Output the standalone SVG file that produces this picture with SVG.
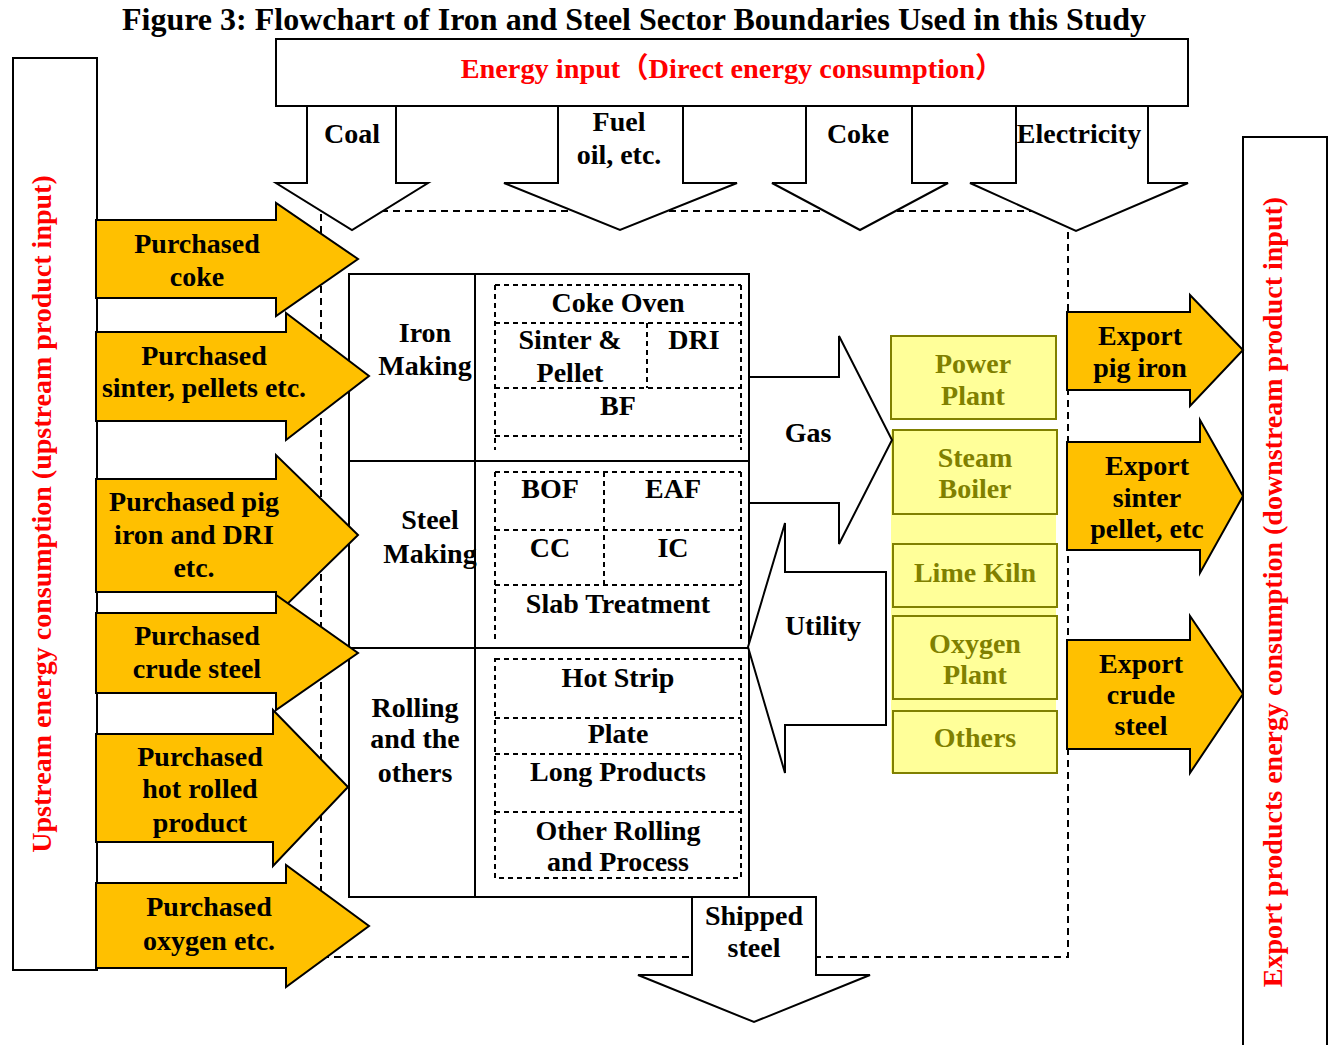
<svg xmlns="http://www.w3.org/2000/svg" width="1329" height="1045" viewBox="0 0 1329 1045">
<style>
.t{font-family:"Liberation Serif","Times New Roman",serif;font-weight:bold;font-size:28px;text-anchor:middle;fill:#000}
.red{fill:#FF0000}
.ol{fill:#808000}
.ln{fill:#fff;stroke:#000;stroke-width:2}
.ya{fill:#FFC000;stroke:#000;stroke-width:2}
.dash{fill:none;stroke:#000;stroke-width:2;stroke-dasharray:7 5}
.dot{fill:none;stroke:#000;stroke-width:2;stroke-dasharray:5 4}
.yb{fill:#FFFF99;stroke:#808000;stroke-width:2}
</style>
<rect width="1329" height="1045" fill="#fff"/>
<text class="t" x="634" y="30" style="font-size:32px">Figure 3: Flowchart of Iron and Steel Sector Boundaries Used in this Study</text>

<g id="boundary">
<rect class="dash" x="321" y="211" width="747" height="746"/>
</g>

<g id="upstream">
<rect class="ln" x="13" y="58" width="84" height="912"/>
<text class="t red" transform="translate(51,514) rotate(-90)">Upstream energy consumption (upstream product input)</text>
</g>
<g id="downstream">
<rect class="ln" x="1243" y="137" width="84" height="930"/>
<text class="t red" transform="translate(1282,592) rotate(-90)">Export products energy consumption (downstream product input)</text>
</g>

<g id="energy-input">
<rect class="ln" x="276" y="39" width="912" height="67"/>
<text class="t red" x="732" y="78" style="font-family:'Liberation Serif','Noto Sans CJK SC',serif;font-size:28.3px">Energy input（Direct energy consumption）</text>
</g>

<g id="table">
<rect class="ln" x="349" y="274" width="400" height="623"/>
<line x1="475" y1="274" x2="475" y2="897" stroke="#000" stroke-width="2"/>
<line x1="349" y1="461" x2="749" y2="461" stroke="#000" stroke-width="2"/>
<line x1="349" y1="648" x2="749" y2="648" stroke="#000" stroke-width="2"/>
</g>

<g id="iron-making">
<text class="t" x="425" y="342">Iron</text>
<text class="t" x="425" y="375">Making</text>
<path class="dot" d="M495,285 H741 M495,285 V450 M741,285 V450 M495,323 H741 M647,323 V388 M495,388 H741 M495,436 H741"/>
<text class="t" x="618" y="312">Coke Oven</text>
<text class="t" x="570" y="349">Sinter &amp;</text>
<text class="t" x="570" y="382">Pellet</text>
<text class="t" x="694" y="349">DRI</text>
<text class="t" x="618" y="415">BF</text>
</g>

<g id="steel-making">
<text class="t" x="430" y="529">Steel</text>
<text class="t" x="430" y="563">Making</text>
<path class="dot" d="M495,472 H741 M495,472 V640 M741,472 V640 M495,530 H741 M604,472 V585 M495,585 H741"/>
<text class="t" x="550" y="498">BOF</text>
<text class="t" x="673" y="498">EAF</text>
<text class="t" x="550" y="557">CC</text>
<text class="t" x="673" y="557">IC</text>
<text class="t" x="618" y="613">Slab Treatment</text>
</g>

<g id="rolling">
<text class="t" x="415" y="717">Rolling</text>
<text class="t" x="415" y="748">and the</text>
<text class="t" x="415" y="782">others</text>
<path class="dot" d="M495,659 H741 V878 H495 Z M495,718 H741 M495,754 H741 M495,812 H741"/>
<text class="t" x="618" y="687">Hot Strip</text>
<text class="t" x="618" y="743">Plate</text>
<text class="t" x="618" y="781">Long Products</text>
<text class="t" x="618" y="840">Other Rolling</text>
<text class="t" x="618" y="871">and Process</text>
</g>

<g id="utilities">
<rect x="891" y="430" width="165" height="343" fill="#FFFF99"/>
<g id="power-plant"><rect class="yb" x="891" y="336" width="165" height="83"/><text class="t ol" x="973" y="373">Power</text><text class="t ol" x="973" y="405">Plant</text></g>
<g id="steam-boiler"><rect class="yb" x="893" y="430" width="164" height="84"/><text class="t ol" x="975" y="467">Steam</text><text class="t ol" x="975" y="498">Boiler</text></g>
<g id="lime-kiln"><rect class="yb" x="893" y="544" width="164" height="63"/><text class="t ol" x="975" y="582">Lime Kiln</text></g>
<g id="oxygen-plant"><rect class="yb" x="893" y="616" width="164" height="83"/><text class="t ol" x="975" y="653">Oxygen</text><text class="t ol" x="975" y="684">Plant</text></g>
<g id="others"><rect class="yb" x="893" y="711" width="164" height="62"/><text class="t ol" x="975" y="747">Others</text></g>
</g>

<g id="connectors">
<g id="coal"><path class="ln" d="M307,106 V183 H276 L352,230 L428,183 H396 V106 Z"/><text class="t" x="352" y="143">Coal</text></g>
<g id="fuel"><path class="ln" d="M558,106 V183 H504 L620,230 L737,183 H683 V106 Z"/><text class="t" x="619" y="131">Fuel</text><text class="t" x="619" y="164">oil, etc.</text></g>
<g id="coke"><path class="ln" d="M806,106 V183 H772 L860,230 L948,183 H912 V106 Z"/><text class="t" x="858" y="143">Coke</text></g>
<g id="electricity"><path class="ln" d="M1016,106 V183 H970 L1076,231 L1188,183 H1148 V106 Z"/><text class="t" x="1079" y="143">Electricity</text></g>

<g id="gas"><path class="ln" d="M749,377 H839 V336 L892,440 L839,544 V503 H749 Z"/><text class="t" x="808" y="442">Gas</text></g>
<g id="utility"><path class="ln" d="M748,647 L785,523 V572 H886 V725 H785 V773 Z"/><text class="t" x="823" y="635">Utility</text></g>

<g id="shipped"><path class="ln" d="M692,897 V975 H638 L754,1022 L870,975 H816 V897 Z"/><text class="t" x="754" y="925">Shipped</text><text class="t" x="754" y="957">steel</text></g>

<g id="p-coke"><path class="ya" d="M96,220 H276 V203 L358,259 L276,316 V298 H96 Z"/><text class="t" x="197" y="253">Purchased</text><text class="t" x="197" y="286">coke</text></g>
<g id="p-sinter"><path class="ya" d="M96,332 H286 V313 L369,376 L286,440 V421 H96 Z"/><text class="t" x="204" y="365">Purchased</text><text class="t" x="204" y="397">sinter, pellets etc.</text></g>
<g id="p-pig"><path class="ya" d="M96,479 H276 V455 L358,535 L276,615 V592 H96 Z"/><text class="t" x="194" y="511">Purchased pig</text><text class="t" x="194" y="544">iron and DRI</text><text class="t" x="194" y="577">etc.</text></g>
<g id="p-crude"><path class="ya" d="M96,613 H276 V595 L358,653 L276,710 V693 H96 Z"/><text class="t" x="197" y="645">Purchased</text><text class="t" x="197" y="678">crude steel</text></g>
<g id="p-hot"><path class="ya" d="M96,734 H273 V710 L348,787 L273,866 V842 H96 Z"/><text class="t" x="200" y="766">Purchased</text><text class="t" x="200" y="798">hot rolled</text><text class="t" x="200" y="832">product</text></g>
<g id="p-oxygen"><path class="ya" d="M96,883 H286 V865 L369,926 L286,987 V968 H96 Z"/><text class="t" x="209" y="916">Purchased</text><text class="t" x="209" y="950">oxygen etc.</text></g>

<g id="e-pig"><path class="ya" d="M1067,312 H1190 V295 L1243,350 L1190,406 V390 H1067 Z"/><text class="t" x="1140" y="345">Export</text><text class="t" x="1140" y="377">pig iron</text></g>
<g id="e-sinter"><path class="ya" d="M1067,442 H1200 V420 L1243,496 L1200,573 V550 H1067 Z"/><text class="t" x="1147" y="475">Export</text><text class="t" x="1147" y="507">sinter</text><text class="t" x="1147" y="538">pellet, etc</text></g>
<g id="e-crude"><path class="ya" d="M1067,640 H1190 V616 L1243,694 L1190,773 V749 H1067 Z"/><text class="t" x="1141" y="673">Export</text><text class="t" x="1141" y="704">crude</text><text class="t" x="1141" y="735">steel</text></g>
</g>
</svg>
